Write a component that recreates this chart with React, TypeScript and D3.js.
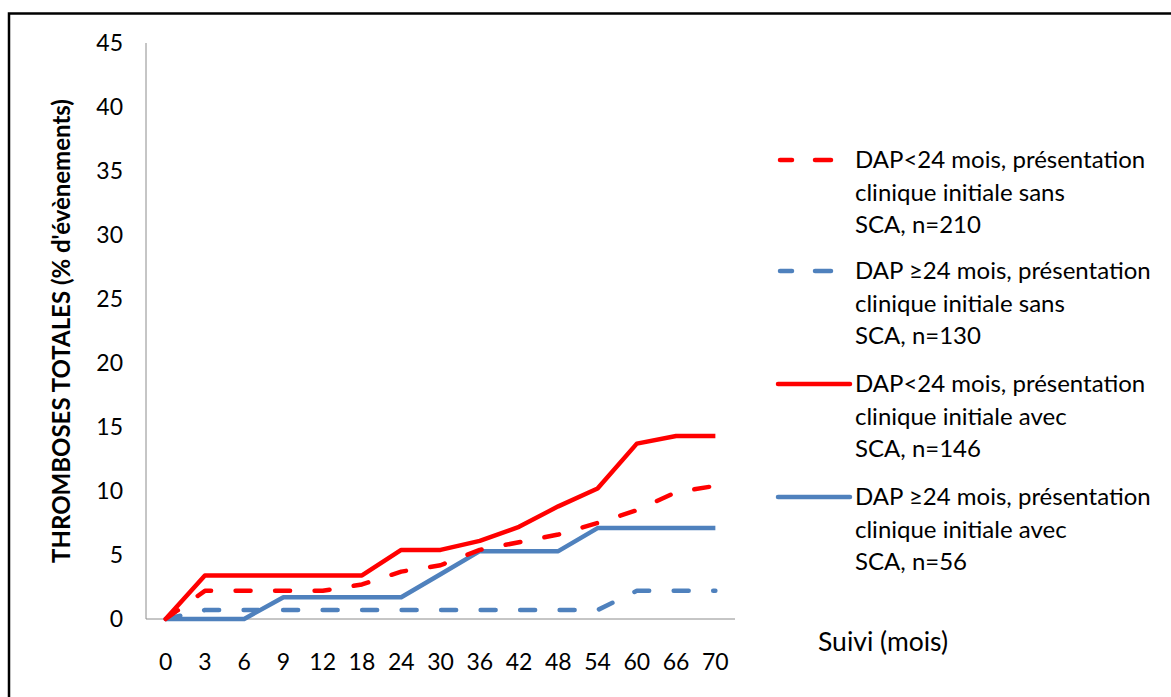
import React from "react";
import * as d3 from "d3";

const months = ["0", "3", "6", "9", "12", "18", "24", "30", "36", "42", "48", "54", "60", "66", "70"];
const yTicks = [0, 5, 10, 15, 20, 25, 30, 35, 40, 45];

const redDashed = [0, 2.2, 2.2, 2.2, 2.2, 2.7, 3.7, 4.2, 5.4, 6.0, 6.6, 7.5, 8.5, 9.9, 10.4];
const blueDashed = [0, 0.7, 0.7, 0.7, 0.7, 0.7, 0.7, 0.7, 0.7, 0.7, 0.7, 0.7, 2.2, 2.2, 2.2];
const redSolid = [0, 3.4, 3.4, 3.4, 3.4, 3.4, 5.4, 5.4, 6.1, 7.2, 8.8, 10.2, 13.7, 14.3, 14.3];
const blueSolid = [0, 0, 0, 1.7, 1.7, 1.7, 1.7, 3.5, 5.3, 5.3, 5.3, 7.1, 7.1, 7.1, 7.1];

const legendLabels = [
  ["DAP<24 mois, présentation", "clinique initiale sans", "SCA, n=210"],
  ["DAP ≥24 mois, présentation", "clinique initiale sans", "SCA, n=130"],
  ["DAP<24 mois, présentation", "clinique initiale avec", "SCA, n=146"],
  ["DAP ≥24 mois, présentation", "clinique initiale avec", "SCA, n=56"],
];

const RED = "#FF0000";
const BLUE = "#4F81BD";
const FONT = "Lato, 'Open Sans', sans-serif";

export default function App() {
  const W = 1171;
  const H = 697;
  const x = d3.scaleBand<string>().domain(months).range([146, 735]);
  const y = d3.scaleLinear().domain([0, 45]).range([619, 43]);
  const cx = (m: string) => (x(m) as number) + x.bandwidth() / 2;

  const line = d3
    .line<number>()
    .x((_, i) => cx(months[i]))
    .y((v) => y(v));

  const series = [
    { data: redDashed, color: RED, dashed: true },
    { data: blueDashed, color: BLUE, dashed: true },
    { data: redSolid, color: RED, dashed: false },
    { data: blueSolid, color: BLUE, dashed: false },
  ];
  const drawOrder = [3, 2, 1, 0];

  const legendTop = [160, 271, 384, 497];
  const lineGap = 32.5;

  return (
    <svg
      width={W}
      height={H}
      style={{ position: "absolute", left: 0, top: 0, display: "block" }}
    >
      <rect x={0} y={0} width={W} height={H} fill="#fff" />
      <rect x={9} y={13.5} width={W + 20} height={H + 20} fill="none" stroke="#000" strokeWidth={2.5} />

      {/* axes */}
      <line x1={146} x2={146} y1={y(45)} y2={y(0)} stroke="#8c8c8c" strokeWidth={1} />
      <line x1={146} x2={735} y1={y(0)} y2={y(0)} stroke="#8c8c8c" strokeWidth={1} />

      {yTicks.map((t) => (
        <text
          key={t}
          x={123}
          y={y(t)}
          dy="0.35em"
          textAnchor="end"
          fontFamily={FONT}
          fontSize={23}
          fill="#000"
        >
          {t}
        </text>
      ))}

      {months.map((m) => (
        <text
          key={m}
          x={cx(m)}
          y={662}
          dy="0.35em"
          textAnchor="middle"
          fontFamily={FONT}
          fontSize={23}
          fill="#000"
        >
          {m}
        </text>
      ))}

      <text
        transform={`translate(62,331) rotate(-90)`}
        textAnchor="middle"
        dy="0.35em"
        fontFamily={FONT}
        fontWeight="bold"
        fontSize={24}
        fill="#000"
      >
        THROMBOSES TOTALES (% d'évènements)
      </text>

      {drawOrder.map((i) => {
        const s = series[i];
        return (
          <path
            key={i}
            d={line(s.data) || ""}
            fill="none"
            stroke={s.color}
            strokeWidth={4.5}
            strokeLinejoin="round"
            strokeLinecap={s.dashed ? "round" : "butt"}
            strokeDasharray={s.dashed ? "15 24.5" : undefined}
          />
        );
      })}

      {/* legend */}
      {series.map((s, i) => (
        <g key={i}>
          {s.dashed ? (
            <>
              <line x1={780} x2={792} y1={legendTop[i]} y2={legendTop[i]} stroke={s.color} strokeWidth={4.5} strokeLinecap="round" />
              <line x1={815} x2={831} y1={legendTop[i]} y2={legendTop[i]} stroke={s.color} strokeWidth={4.5} strokeLinecap="round" />
            </>
          ) : (
            <line x1={778} x2={850} y1={legendTop[i]} y2={legendTop[i]} stroke={s.color} strokeWidth={4.5} strokeLinecap="round" />
          )}
          {legendLabels[i].map((t, j) => (
            <text
              key={j}
              x={855}
              y={legendTop[i] + j * lineGap}
              dy="0.35em"
              fontFamily={FONT}
              fontSize={24}
              fill="#000"
            >
              {t}
            </text>
          ))}
        </g>
      ))}

      <text x={818} y={642} dy="0.35em" fontFamily={FONT} fontSize={26.5} fill="#000">
        Suivi (mois)
      </text>
    </svg>
  );
}
